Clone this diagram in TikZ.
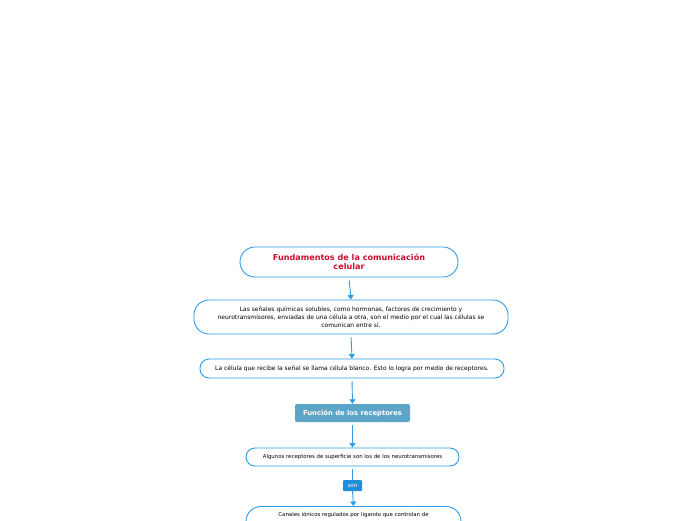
\documentclass[tikz,border=0pt]{standalone}
\usepackage{fontspec}
\setmainfont{DejaVu Sans}
\usepackage{xcolor}
\usetikzlibrary{arrows.meta}
\definecolor{lineblue}{HTML}{2E9BE6}
\definecolor{titlered}{HTML}{C8102E}
\definecolor{recfill}{HTML}{5DA5C8}
\definecolor{sonfill}{HTML}{1E8FDC}

\tikzset{
  box/.style={draw=lineblue, line width=0.9pt, align=center, font=\fontsize{5.4}{8}\selectfont, inner sep=0pt},
  link/.style={draw=lineblue, line width=0.9pt, -{Triangle[width=6pt,length=4.5pt]}, shorten <=3pt},
}

\begin{document}
\begin{tikzpicture}[x=1pt, y=-1pt]
    \useasboundingbox (0,0) rectangle (696,520);

    % Boxes
    \node[box, rounded corners=15pt, minimum width=218pt, minimum height=30pt,
          text=titlered, font=\fontsize{8.1}{9}\selectfont\bfseries]
          (fund) at (349,262) {Fundamentos de la comunicación\\celular};
    \node[box, rounded corners=15pt, minimum width=314pt, minimum height=34pt,
          font=\fontsize{6}{7.7}\selectfont]
          (senales) at (351,317) {Las señales químicas solubles, como hormonas, factores de crecimiento y\\
          neurotransmisores, enviadas de una célula a otra, son el medio por el cual las células se\\
          comunican entre sí.};
    \node[box, rounded corners=9pt, minimum width=304pt, minimum height=19pt,
          font=\fontsize{6}{8}\selectfont]
          (blanco) at (352,368.5) {La célula que recibe la señal se llama célula blanco. Esto lo logra por medio de receptores.};
    \node[fill=recfill, rounded corners=2pt, minimum width=115pt, minimum height=18pt, inner sep=0pt,
          text=white, font=\fontsize{6.8}{8}\selectfont\bfseries]
          (funcion) at (352.5,413) {Función de los receptores};
    \node[box, rounded corners=9pt, minimum width=213pt, minimum height=18pt]
          (algunos) at (352.5,457) {Algunos receptores de superficie son los de los neurotransmisores};
    \node[box, rounded corners=15pt, minimum width=215pt, minimum height=34pt, anchor=north]
          (canales) at (353.5,506) {};
    \node[font=\fontsize{5.4}{8}\selectfont, anchor=north, inner sep=0pt]
          (canalestxt) at (353.5,512) {Canales iónicos regulados por ligando que controlan de};

    % Label
    \node[fill=sonfill, rounded corners=1pt, minimum width=19pt, minimum height=11pt, inner sep=0pt,
          text=white, font=\fontsize{5.6}{7}\selectfont]
          (son) at (352.5,485.5) {son};

    % Connectors
    \draw[link] (fund.south) -- (senales.north);
    \draw[link] (senales.south) -- (blanco.north);
    \draw[link] (blanco.south) -- (funcion.north);
    \draw[link] (funcion.south) -- (algunos.north);
    \draw[lineblue, line width=0.9pt, shorten <=3pt] (algunos.south) -- (son.north);
    \draw[link, shorten <=0pt] (son.south) -- (canales.north);
\end{tikzpicture}
\end{document}
